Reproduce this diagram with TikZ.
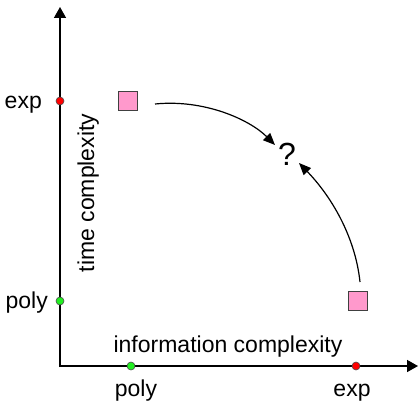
\documentclass[tikz,border=0pt]{standalone}
\usepackage{fontspec}
\setmainfont{Liberation Sans}
\usetikzlibrary{arrows.meta}
\definecolor{boxpink}{HTML}{FF99CC}
\definecolor{dotred}{HTML}{FF0000}
\definecolor{dotgreen}{HTML}{22EE22}
\begin{document}
\begin{tikzpicture}[x=1pt,y=-1pt,
  lbl/.style={inner sep=0pt,font=\fontsize{23}{27}\selectfont},
  axis/.style={line width=1.5pt,-{Triangle[length=11pt,width=12pt]}},
  flow/.style={line width=1.2pt,-{Triangle[length=12pt,width=10pt]}},
  sq/.style={draw=black!75,line width=1.3pt,fill=boxpink,minimum size=19pt,inner sep=0pt},
  tick/.style={circle,draw=black!70,line width=0.6pt,minimum size=8pt,inner sep=0pt}]
\useasboundingbox (0,0) rectangle (419,401);
% axes
\coordinate (o) at (60,366);
\coordinate (ytop) at (60,7);
\coordinate (xend) at (418,366);
\draw[axis] (60,367) -- (ytop);
\draw[axis] (59,366) -- (xend);
% ticks on the axes
\node[tick,fill=dotred] (yexp) at (60,101) {};
\node[tick,fill=dotgreen] (ypoly) at (60,301) {};
\node[tick,fill=dotgreen] (xpoly) at (131,366) {};
\node[tick,fill=dotred] (xexp) at (356,366) {};
% tick labels
\node[lbl,anchor=base east] (lexp) at (42,108) {exp};
\node[lbl,anchor=base east] (lpoly) at (48,308) {poly};
\node[lbl,anchor=base] (bpoly) at (136,396) {poly};
\node[lbl,anchor=base] (bexp) at (352,396) {exp};
% axis titles
\node[lbl,anchor=base] (xtitle) at (228,352) {information complexity};
\node[lbl,anchor=base,rotate=90] (ytitle) at (94,193) {time complexity};
% two known points and the open question
\node[sq] (a) at (128,101) {};
\node[sq] (b) at (358,301) {};
\node[inner sep=0pt,anchor=base,font=\fontsize{32}{36}\selectfont] (q) at (287,165) {?};
\coordinate (a1) at (155,104);
\coordinate (q1) at (275,145);
\coordinate (b1) at (360,282);
\coordinate (q2) at (299,163);
\draw[flow] (a1) .. controls (205,99) and (250,120) .. (q1);
\draw[flow] (b1) .. controls (355,235) and (330,195) .. (q2);
\end{tikzpicture}
\end{document}
